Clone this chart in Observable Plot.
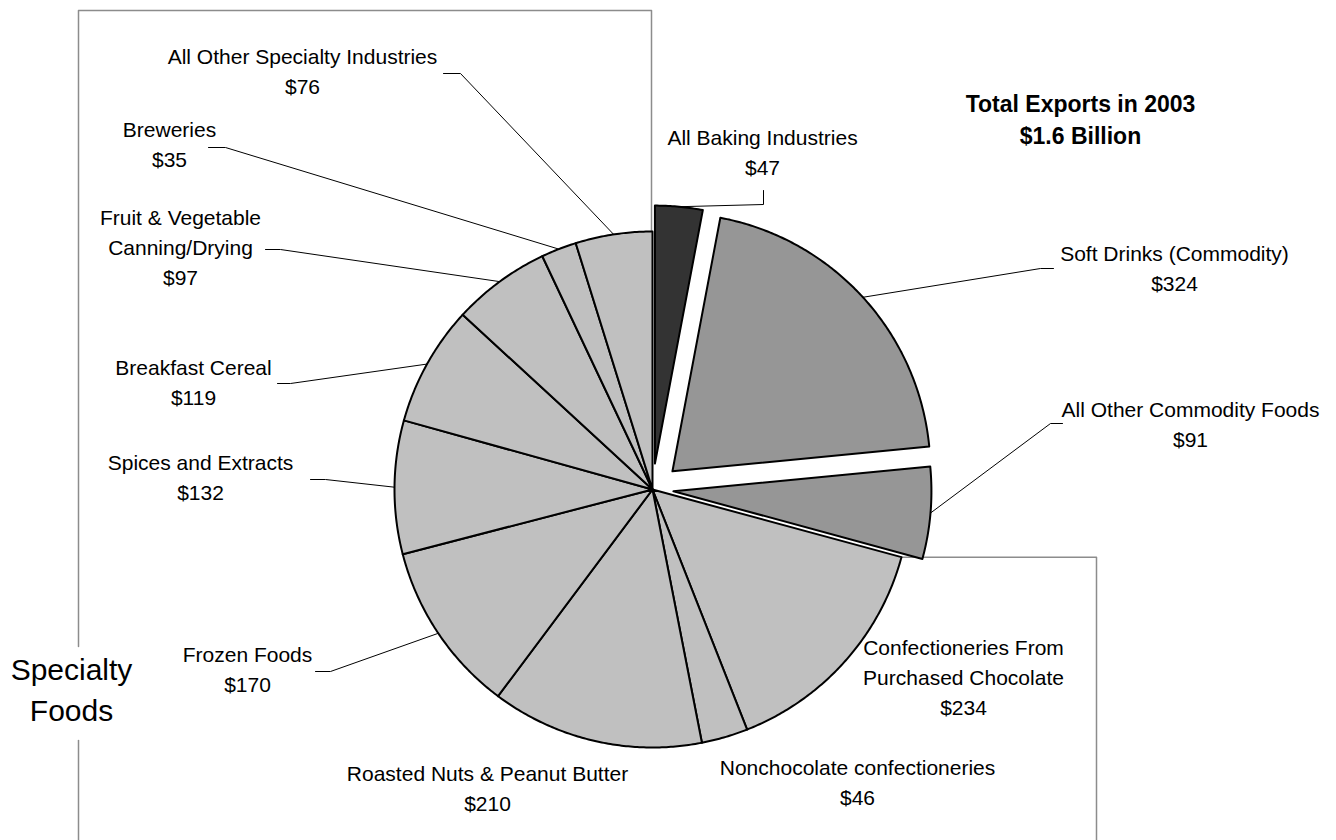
<!DOCTYPE html>
<html>
<head>
<meta charset="utf-8">
<script src="https://cdn.jsdelivr.net/npm/d3@7"></script>
<script src="https://cdn.jsdelivr.net/npm/@observablehq/plot@0.6"></script>
<style>
  html, body { margin: 0; padding: 0; background: #fff; }
  #chart svg { display: block; }
</style>
</head>
<body>
<div id="chart"></div>
<script>
// ---------- DATA ----------
const categories = [
  "All Baking Industries",
  "Soft Drinks (Commodity)",
  "All Other Commodity Foods",
  "Confectioneries From\nPurchased Chocolate",
  "Nonchocolate confectioneries",
  "Roasted Nuts & Peanut Butter",
  "Frozen Foods",
  "Spices and Extracts",
  "Breakfast Cereal",
  "Fruit & Vegetable\nCanning/Drying",
  "Breweries",
  "All Other Specialty Industries"
];
const values = [47, 324, 91, 234, 46, 210, 170, 132, 119, 97, 35, 76];
const groups = ["Baking", "Commodity", "Commodity", "Specialty", "Specialty", "Specialty",
                "Specialty", "Specialty", "Specialty", "Specialty", "Specialty", "Specialty"];
const titleLines = ["Total Exports in 2003", "$1.6 Billion"];
const bracketLabel = ["Specialty", "Foods"];

// ---------- LAYOUT / STYLE (not data) ----------
const W = 1336, H = 840;
const cx = 652, cy = 489, R = 258;
const explode = [26, 27, 21, 0, 0, 0, 0, 0, 0, 0, 0, 0];
const groupFill = { Baking: "#333333", Commodity: "#969696", Specialty: "#c0c0c0" };
// label block centre, and leader start / elbow (null = no leader)
const labelLayout = [
  { x: 762, y: 150, lead: [[763, 190], [763, 204]] },
  { x: 1174, y: 266, lead: [[1053, 268], [1040, 268]] },
  { x: 1190, y: 422, lead: [[1062, 423], [1050, 423]] },
  { x: 963, y: 675, lead: null },
  { x: 857, y: 780, lead: null },
  { x: 487, y: 786, lead: null },
  { x: 247, y: 667, lead: [[315, 671], [330, 671]] },
  { x: 200, y: 475, lead: [[310, 479], [325, 479]] },
  { x: 193, y: 380, lead: [[277, 383], [290, 383]] },
  { x: 180, y: 245, lead: [[265, 249], [280, 249]] },
  { x: 169, y: 142, lead: [[208, 147], [225, 147]] },
  { x: 302, y: 69, lead: [[443, 73], [460, 73]] }
];

// ---------- GEOMETRY from values ----------
const rows = categories.map((c, i) => ({ name: c, value: values[i], group: groups[i], i }));
const arcs = d3.pie().sort(null).value(d => d.value)(rows);

const slicePts = [];
const leaderPts = [];
const labels = [];
arcs.forEach((a, i) => {
  const mid = (a.startAngle + a.endAngle) / 2;
  const off = explode[i];
  const ox = cx + off * Math.sin(mid), oy = cy - off * Math.cos(mid);
  const fill = groupFill[a.data.group];
  slicePts.push({ k: i, x: ox, y: oy, fill });
  const n = Math.max(4, Math.ceil((a.endAngle - a.startAngle) / (Math.PI / 360)));
  for (let j = 0; j <= n; j++) {
    const t = a.startAngle + (a.endAngle - a.startAngle) * j / n;
    slicePts.push({ k: i, x: ox + R * Math.sin(t), y: oy - R * Math.cos(t), fill });
  }
  const L = labelLayout[i];
  labels.push({ x: L.x, y: L.y, text: a.data.name + "\n$" + a.data.value });
  if (L.lead) {
    L.lead.forEach(p => leaderPts.push({ k: i, x: p[0], y: p[1] }));
    leaderPts.push({ k: i, x: ox + R * Math.sin(mid), y: oy - R * Math.cos(mid) });
  }
});

// grey brackets, anchored on the pie's slice boundaries
const pt = ang => ({ x: cx + R * Math.sin(ang), y: cy - R * Math.cos(ang) });
const top0 = pt(arcs[0].startAngle);
const commEnd = pt(arcs[2].endAngle);
const bracketPts = [
  { k: "a", x: top0.x - 1, y: top0.y }, { k: "a", x: top0.x - 1, y: 10 },
  { k: "a", x: 78, y: 10 }, { k: "a", x: 78, y: 646 },
  { k: "b", x: 78, y: 740 }, { k: "b", x: 78, y: H },
  { k: "c", x: commEnd.x, y: commEnd.y }, { k: "c", x: 1096, y: commEnd.y },
  { k: "c", x: 1096, y: H }
];

const font = "'Liberation Sans', Arial, sans-serif";

const chart = Plot.plot({
  width: W,
  height: H,
  margin: 0,
  x: { domain: [0, W], range: [0, W], axis: null },
  y: { domain: [0, H], range: [0, H], axis: null },
  color: { type: "identity" },
  style: { fontFamily: font, background: "#fff" },
  marks: [
    Plot.line(bracketPts, { x: "x", y: "y", z: "k", stroke: "#8c8c8c", strokeWidth: 1.5 }),
    Plot.line(slicePts, {
      x: "x", y: "y", z: "k", fill: "fill", stroke: "#000", strokeWidth: 2,
      strokeLinejoin: "round", curve: "linear-closed"
    }),
    Plot.line(leaderPts, { x: "x", y: "y", z: "k", stroke: "#000", strokeWidth: 1 }),
    Plot.text(labels, {
      x: "x", y: "y", text: "text", fontSize: 21, lineHeight: 1.43,
      fill: "#000", fontFamily: font
    }),
    Plot.text([titleLines.join("\n")], {
      x: () => 1080, y: () => 117, text: d => d, fontSize: 23, fontWeight: "bold",
      lineHeight: 1.39, fill: "#000", fontFamily: font
    }),
    Plot.text([bracketLabel.join("\n")], {
      x: () => 71, y: () => 687, text: d => d, fontSize: 30,
      lineHeight: 1.37, fill: "#000", fontFamily: font
    })
  ]
});
document.getElementById("chart").appendChild(chart);
</script>
</body>
</html>
